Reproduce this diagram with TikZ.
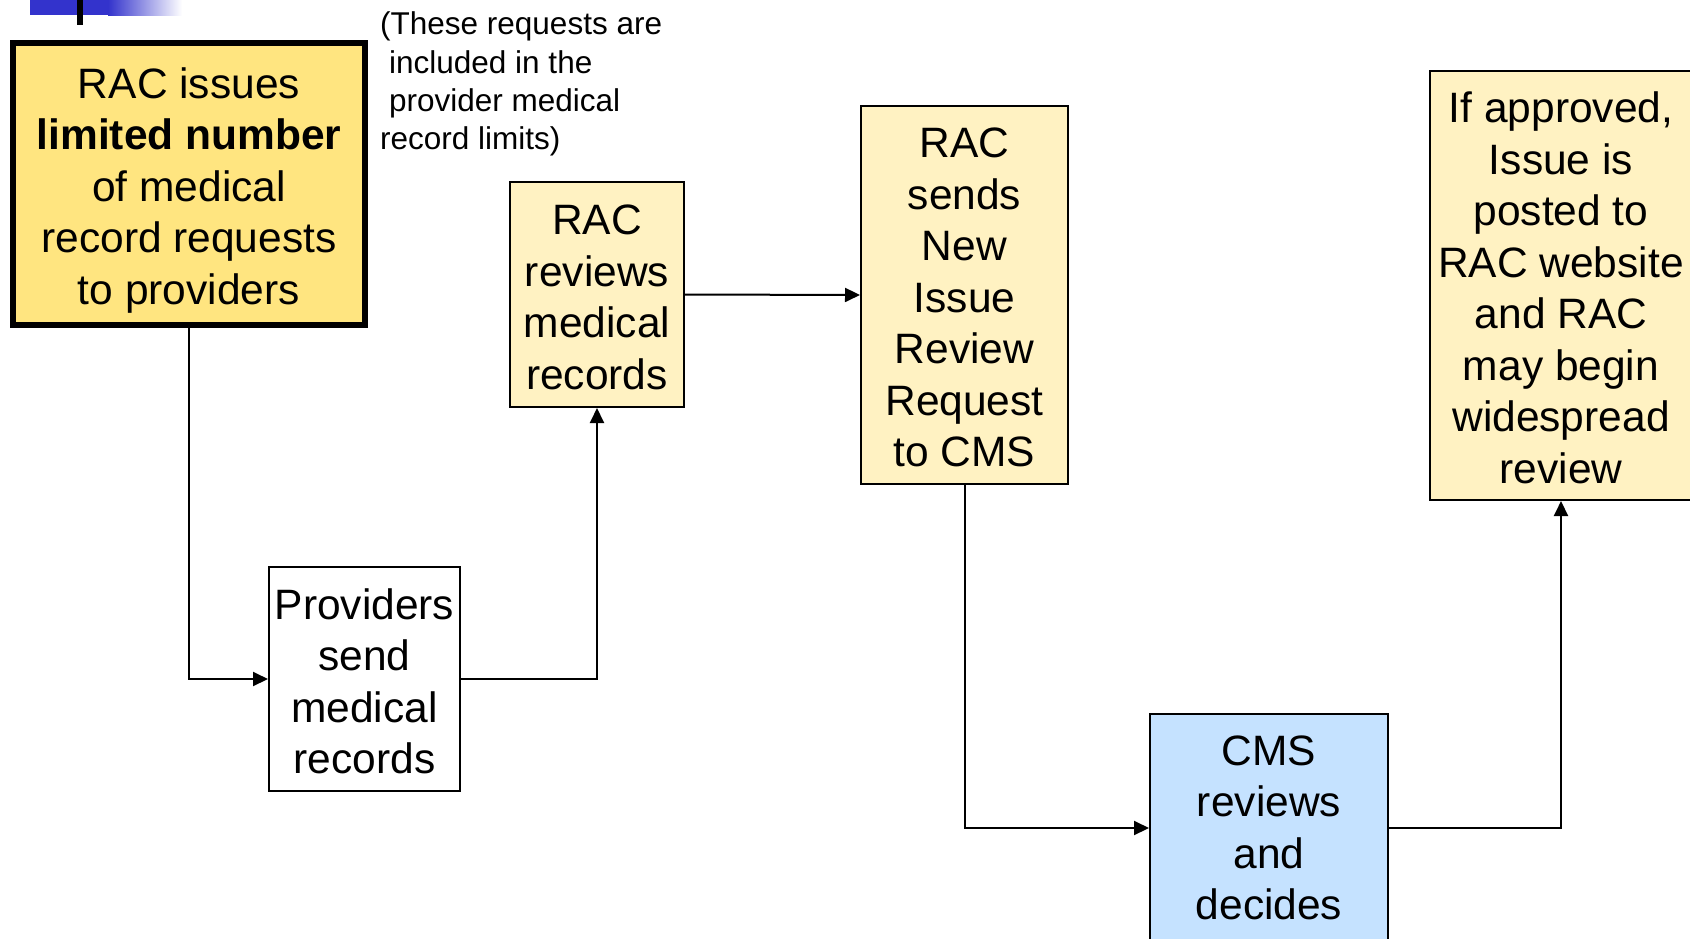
\documentclass[tikz,border=0pt]{standalone}
\usepackage{fontspec}
\setmainfont{Liberation Sans}
\usetikzlibrary{arrows.meta}
\definecolor{gold}{RGB}{255,229,128}
\definecolor{pale}{RGB}{255,242,194}
\definecolor{skyb}{RGB}{197,226,255}
\definecolor{barblue}{RGB}{51,51,204}
\newcommand{\topstrut}[1]{\rule{0pt}{#1pt}}
\begin{document}
\begin{tikzpicture}[x=1pt,y=-1pt,
  box/.style={draw=black, line width=2pt, align=center, inner sep=0pt,
    font=\fontsize{42.5}{51.5}\selectfont},
  note/.style={anchor=base west, inner sep=0pt, font=\fontsize{31.5}{38}\selectfont},
  conn/.style={line width=2pt, -{Triangle[length=15pt,width=14pt]}}]
\useasboundingbox (0,0) rectangle (1690,938);
% top-left decoration
\fill[barblue] (30,0) rectangle (110,15);
\shade[left color=barblue, right color=white] (108,0) rectangle (182,15);
\fill[black] (77,0) rectangle (83,25);
% boxes
\node[box, fill=gold, line width=6pt, minimum width=352pt, minimum height=282pt] (b1) at (189,184)
  {\topstrut{43}RAC issues\\\textbf{limited number}\\of medical\\record requests\\to providers};
\node[box, fill=pale, minimum width=174pt, minimum height=225pt] (b2) at (597,294.5)
  {\topstrut{35}RAC\\reviews\\medical\\records};
\node[box, fill=white, minimum width=191pt, minimum height=224pt] (b3) at (364.5,679)
  {\topstrut{35}Providers\\send\\medical\\records};
\node[box, fill=pale, minimum width=207pt, minimum height=378pt] (b4) at (964.5,295)
  {\topstrut{35}RAC\\sends\\New\\Issue\\Review\\Request\\to CMS};
\node[box, fill=skyb, minimum width=238pt, minimum height=228pt] (b5) at (1269,828)
  {CMS\\reviews\\and\\decides};
\node[box, fill=pale, minimum width=262pt, minimum height=429pt] (b6) at (1561,285.5)
  {\topstrut{35}If approved,\\Issue is\\posted to\\RAC website\\and RAC\\may begin\\widespread\\review};
% note
\node[note] (n1) at (380,34) {(These requests are};
\node[note] (n2) at (389,73) {included in the};
\node[note] (n3) at (389,111) {provider medical};
\node[note] (n4) at (380,149) {record limits)};
% connectors
\draw[conn] (b1.south) |- (b3.west);
\draw[conn] (b3.east) -| (b2.south);
\draw[conn] (b2.east) -- (b4.west);
\draw[conn] (b4.south) |- (b5.west);
\draw[conn] (b5.east) -| (b6.south);
\end{tikzpicture}
\end{document}
